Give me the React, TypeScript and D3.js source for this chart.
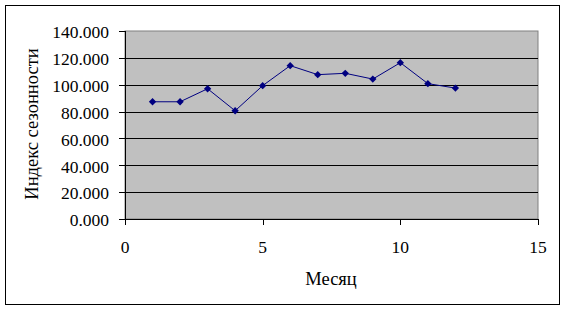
import React from "react";
import * as d3 from "d3";

const months = [1, 2, 3, 4, 5, 6, 7, 8, 9, 10, 11, 12];
const seasonIndex = [87.3, 87.3, 97.0, 80.6, 99.3, 114.2, 107.5, 108.5, 104.2, 116.4, 100.8, 97.5];
const xTicks = [0, 5, 10, 15];
const yTicks = [0, 20, 40, 60, 80, 100, 120, 140];
const xTitle = "Месяц";
const yTitle = "Индекс сезонности";

export default function App() {
  const W = 567, H = 311;
  const left = 125, right = 538, top = 31, bottom = 219;
  const x = d3.scaleLinear().domain([0, 15]).range([left, right]);
  const y = d3.scaleLinear().domain([0, 140]).range([bottom, top]);
  const line = d3.line<number>().x((_, i) => x(months[i])).y((d) => y(d));
  const marker = d3.symbol().type(d3.symbolSquare).size(27)() as string;
  const tickStyle: React.CSSProperties = { fontFamily: "Liberation Serif", fontSize: 17.5 };
  const titleStyle: React.CSSProperties = { fontFamily: "Liberation Serif", fontSize: 18.5 };
  return (
    <svg width={W} height={H} style={{ position: "absolute", left: 0, top: 0 }}>
      <rect x={0} y={0} width={W} height={H} fill="#fff" />
      <rect x={5.5} y={5.5} width={554} height={299} fill="#fff" stroke="#000" strokeWidth={1} />
      <rect x={left} y={top} width={right - left} height={bottom - top} fill="#C0C0C0" stroke="#808080" strokeWidth={1} />
      {yTicks.map((t) => (
        <g key={"y" + t}>
          {t > 0 && t < 140 && (
            <line x1={left} x2={right} y1={Math.round(y(t)) + 0.5} y2={Math.round(y(t)) + 0.5} stroke="#000" strokeWidth={1} />
          )}
          <line x1={left - 6} x2={left} y1={Math.round(y(t)) + 0.5} y2={Math.round(y(t)) + 0.5} stroke="#000" />
          <text x={109} y={y(t) + 7.3} textAnchor="end" style={tickStyle} fill="#000">
            {t.toFixed(3)}
          </text>
        </g>
      ))}
      <line x1={left + 0.5} x2={left + 0.5} y1={top} y2={bottom + 0.5} stroke="#000" />
      <line x1={left} x2={right} y1={bottom + 0.5} y2={bottom + 0.5} stroke="#000" />
      {xTicks.map((t) => (
        <g key={"x" + t}>
          <line x1={Math.round(x(t)) + 0.5} x2={Math.round(x(t)) + 0.5} y1={bottom} y2={bottom + 6} stroke="#000" />
          <text x={x(t)} y={253} textAnchor="middle" style={tickStyle} fill="#000">
            {t}
          </text>
        </g>
      ))}
      <path d={line(seasonIndex) || ""} fill="none" stroke="#000080" strokeWidth={1} />
      {seasonIndex.map((v, i) => (
        <path key={"m" + i} d={marker} transform={`translate(${x(months[i])},${y(v)}) rotate(45)`} fill="#000080" />
      ))}
      <text x={331} y={285} textAnchor="middle" style={titleStyle} fill="#000">
        {xTitle}
      </text>
      <text transform={`translate(38,124) rotate(-90)`} textAnchor="middle" style={titleStyle} fill="#000">
        {yTitle}
      </text>
    </svg>
  );
}
